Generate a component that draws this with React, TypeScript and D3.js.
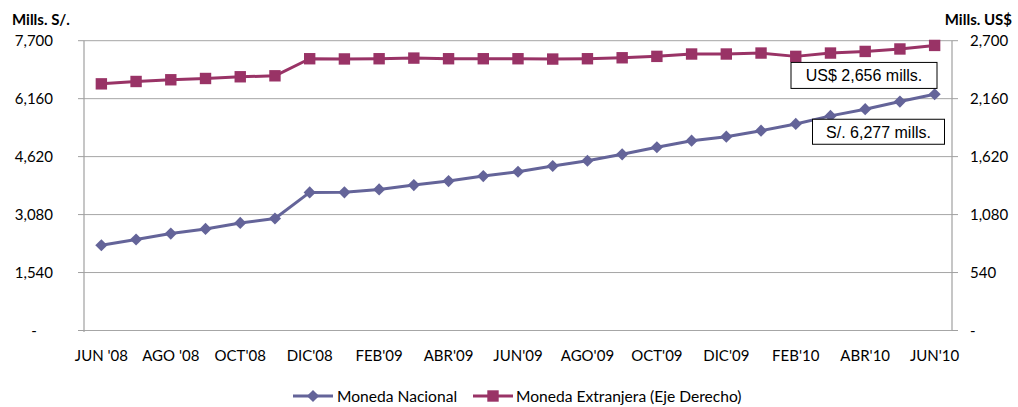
import React from "react";
import * as d3 from "d3";

const months = [
  "JUN '08", "JUL '08", "AGO '08", "SET '08", "OCT'08", "NOV'08", "DIC'08",
  "ENE'09", "FEB'09", "MAR'09", "ABR'09", "MAY'09", "JUN'09", "JUL'09",
  "AGO'09", "SET'09", "OCT'09", "NOV'09", "DIC'09", "ENE'10", "FEB'10",
  "MAR'10", "ABR'10", "MAY'10", "JUN'10",
];
const nacional = [
  2265, 2417, 2576, 2699, 2859, 2976, 3669, 3672, 3749, 3863, 3970, 4103,
  4218, 4370, 4511, 4681, 4868, 5044, 5150, 5310, 5489, 5702, 5880, 6083, 6277,
];
const extranjera = [
  2298, 2320, 2336, 2348, 2364, 2373, 2532, 2530, 2532, 2538, 2532, 2532,
  2532, 2529, 2532, 2541, 2554, 2576, 2576, 2585, 2554, 2585, 2600, 2623, 2656,
];
const leftTicks = [0, 1540, 3080, 4620, 6160, 7700];
const rightTicks = [0, 540, 1080, 1620, 2160, 2700];
const seriesNames = ["Moneda Nacional", "Moneda Extranjera (Eje Derecho)"];
const annotations = ["US$ 2,656 mills.", "S/. 6,277 mills."];

const COL_N = "#646499";
const COL_E = "#993366";
const FONT = "Lato, 'Open Sans', sans-serif";

export default function App() {
  const L = 84, R = 952, T = 40.7, B = 330.5;
  const x = d3.scaleBand<string>().domain(months).range([L, R]);
  const cx = (m: string) => (x(m) as number) + x.bandwidth() / 2;
  const yL = d3.scaleLinear().domain([0, 7700]).range([B, T]);
  const yR = d3.scaleLinear().domain([0, 2700]).range([B, T]);
  const fmt = d3.format(",");

  const lineN = d3.line<number>().x((_, i) => cx(months[i])).y((d) => yL(d));
  const lineE = d3.line<number>().x((_, i) => cx(months[i])).y((d) => yR(d));
  const diamond = d3.symbol().type(d3.symbolSquare).size(74)() as string;
  const square = d3.symbol().type(d3.symbolSquare).size(130)() as string;

  const lastI = months.length - 1;

  return (
    <svg
      width={1018}
      height={407}
      style={{ position: "absolute", left: 0, top: 0, background: "#fff" }}
      fontFamily={FONT}
    >
      <rect x={0} y={0} width={1018} height={407} fill="#fff" />
      {/* gridlines */}
      {leftTicks.map((t) => (
        <line key={"g" + t} x1={L} x2={R} y1={yL(t)} y2={yL(t)} stroke="#a6a6a6" strokeWidth={1} />
      ))}
      {/* axes */}
      <line x1={L} x2={L} y1={T} y2={B + 1.5} stroke="#a0a0a0" strokeWidth={1.2} />
      <line x1={R} x2={R} y1={T} y2={B} stroke="#a0a0a0" strokeWidth={1.2} />
      {leftTicks.map((t) => (
        <line key={"lt" + t} x1={L - 6} x2={L} y1={yL(t)} y2={yL(t)} stroke="#a0a0a0" strokeWidth={1} />
      ))}
      {rightTicks.map((t) => (
        <line key={"rt" + t} x1={R} x2={R + 6} y1={yR(t)} y2={yR(t)} stroke="#a0a0a0" strokeWidth={1} />
      ))}
      {/* left labels */}
      {leftTicks.map((t) =>
        t === 0 ? (
          <text key={"ll" + t} x={34} y={yL(t) + 5} fontSize={15} textAnchor="middle" fill="#000">-</text>
        ) : (
          <text key={"ll" + t} x={53} y={yL(t) + 5} fontSize={15} textAnchor="end" fill="#000">{fmt(t)}</text>
        )
      )}
      {rightTicks.map((t) => (
        <text key={"rl" + t} x={970} y={yR(t) + 5} fontSize={15} textAnchor="start" fill="#000">
          {t === 0 ? "-" : fmt(t)}
        </text>
      ))}
      {/* axis titles */}
      <text x={12} y={25} fontSize={15} fontWeight="bold" fill="#000">Mills. S/.</text>
      <text x={1012} y={25} fontSize={15} fontWeight="bold" textAnchor="end" fill="#000">Mills. US$</text>
      {/* x labels */}
      {months.map((m, i) =>
        i % 2 === 0 ? (
          <text key={m} x={cx(m)} y={361} fontSize={15} textAnchor="middle" fill="#000">{m}</text>
        ) : null
      )}
      {/* series */}
      <path d={lineE(extranjera) as string} fill="none" stroke={COL_E} strokeWidth={3} strokeLinejoin="round" />
      {extranjera.map((v, i) => (
        <path key={"e" + i} d={square} transform={`translate(${cx(months[i])},${yR(v)})`} fill={COL_E} />
      ))}
      <path d={lineN(nacional) as string} fill="none" stroke={COL_N} strokeWidth={3} strokeLinejoin="round" />
      {nacional.map((v, i) => (
        <path key={"n" + i} d={diamond} transform={`translate(${cx(months[i])},${yL(v)}) rotate(45)`} fill={COL_N} />
      ))}
      {/* annotations */}
      <g>
        <rect x={791} y={yR(extranjera[lastI]) + 17} width={146} height={26} fill="#fff" stroke="#000" strokeWidth={1} />
        <text x={864} y={yR(extranjera[lastI]) + 36} fontSize={16} textAnchor="middle" fontFamily="'Liberation Sans', Arial, sans-serif" fill="#000">
          {annotations[0]}
        </text>
        <rect x={812.5} y={yL(nacional[lastI]) + 25} width={132} height={25} fill="#fff" stroke="#000" strokeWidth={1} />
        <text x={878.5} y={yL(nacional[lastI]) + 43.5} fontSize={16} textAnchor="middle" fontFamily="'Liberation Sans', Arial, sans-serif" fill="#000">
          {annotations[1]}
        </text>
      </g>
      {/* legend */}
      <g>
        <line x1={293} x2={333} y1={396} y2={396} stroke={COL_N} strokeWidth={3} />
        <path d={diamond} transform="translate(313,396) rotate(45)" fill={COL_N} />
        <text x={337} y={401.5} fontSize={15.6} fill="#000">{seriesNames[0]}</text>
        <line x1={473} x2={513} y1={396} y2={396} stroke={COL_E} strokeWidth={3} />
        <path d={square} transform="translate(493,396)" fill={COL_E} />
        <text x={516} y={401.5} fontSize={15.6} fill="#000">{seriesNames[1]}</text>
      </g>
    </svg>
  );
}
